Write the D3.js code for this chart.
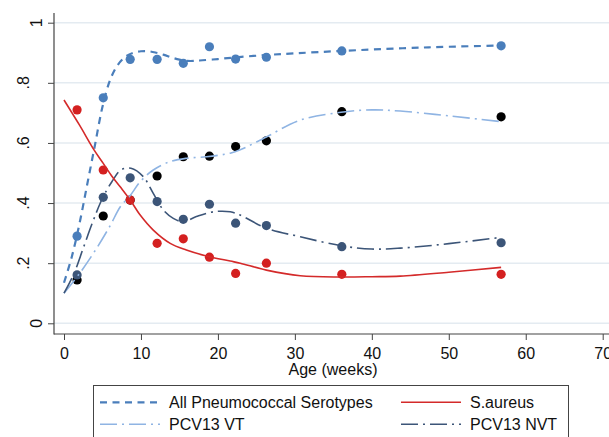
<!DOCTYPE html>
<html><head><meta charset="utf-8">
<script src="https://cdn.jsdelivr.net/npm/d3@7/dist/d3.min.js"></script>
<style>
html,body{margin:0;padding:0;background:#fff;}
svg{display:block;font-family:"Liberation Sans",Arial,sans-serif;}
</style></head>
<body>
<svg id="chart" width="609" height="437"></svg>
<script>
// ---- observed data (age in weeks) ----
const ageWeeks = [1.7, 5.1, 8.6, 12.1, 15.5, 18.9, 22.3, 26.3, 36.1, 56.8];
const allPneumo = [0.29, 0.75, 0.878, 0.878, 0.865, 0.92, 0.879, 0.885, 0.906, 0.923];
const pcv13VT   = [0.144, 0.357, 0.41, 0.49, 0.554, 0.556, 0.588, 0.607, 0.704, 0.687];
const pcv13NVT  = [0.161, 0.419, 0.484, 0.405, 0.346, 0.396, 0.333, 0.325, 0.255, 0.268];
const sAureus   = [0.71, 0.51, 0.41, 0.266, 0.281, 0.22, 0.166, 0.2, 0.163, 0.163];

// ---- fitted curves ----
const allFitX = [0, 1, 2, 3, 4, 5, 6, 7, 8, 9, 10, 11, 12, 13, 14, 15, 16, 17, 18, 20, 22, 26, 30, 36, 44, 50, 56.8];
const allFitY = [0.135, 0.22, 0.33, 0.46, 0.59, 0.72, 0.81, 0.86, 0.887, 0.9, 0.905, 0.905, 0.9, 0.893, 0.884, 0.877, 0.873, 0.873, 0.875, 0.879, 0.884, 0.892, 0.898, 0.906, 0.915, 0.92, 0.924];
const vtFitX  = [0, 2, 4, 6, 7.3, 8.6, 9.9, 11.6, 13.8, 15.9, 18.5, 21.6, 22.9, 26.3, 30.7, 36, 40, 43.7, 50, 56.8];
const vtFitY  = [0.1, 0.165, 0.24, 0.325, 0.387, 0.425, 0.471, 0.51, 0.538, 0.549, 0.554, 0.566, 0.577, 0.62, 0.676, 0.702, 0.71, 0.706, 0.69, 0.671];
const nvtFitX = [0, 1.3, 2.5, 3.7, 5, 6.2, 7.4, 8.7, 10.3, 11.6, 12.9, 14.2, 15.5, 17.2, 19.4, 21.6, 22.9, 26.3, 30.7, 36, 40, 43.7, 50, 56.8];
const nvtFitY = [0.1, 0.166, 0.25, 0.335, 0.416, 0.47, 0.51, 0.516, 0.488, 0.432, 0.377, 0.349, 0.338, 0.355, 0.371, 0.371, 0.36, 0.316, 0.288, 0.258, 0.247, 0.25, 0.265, 0.286];
const saFitX  = [0, 2, 3.9, 5.1, 6.2, 7.3, 8.6, 9.9, 11.6, 13.8, 15.9, 18.5, 21.6, 22.9, 26.3, 30.7, 36, 40, 43.7, 50, 56.8];
const saFitY  = [0.743, 0.66, 0.577, 0.532, 0.49, 0.454, 0.41, 0.36, 0.31, 0.266, 0.244, 0.224, 0.207, 0.2, 0.177, 0.158, 0.154, 0.155, 0.157, 0.17, 0.186];

const xTicks = [0, 10, 20, 30, 40, 50, 60, 70];
const yTicks = [0, 0.2, 0.4, 0.6, 0.8, 1];
const yTickLabels = ["0", ".2", ".4", ".6", ".8", "1"];
const legendLabels = ["All Pneumococcal Serotypes", "S.aureus", "PCV13 VT", "PCV13 NVT"];

// ---- drawing ----
const svg = d3.select("#chart");
const x = d3.scaleLinear().domain([0, 70]).range([64, 602.7]);
const y = d3.scaleLinear().domain([0, 1]).range([323.3, 22.7]);
const axisX = 54, axisY = 334;

// gridlines
svg.append("g").selectAll("line").data(yTicks).join("line")
  .attr("x1", axisX).attr("x2", 609)
  .attr("y1", d => y(d)).attr("y2", d => y(d))
  .attr("stroke", "#e4ebf1").attr("stroke-width", 1.5);

// y axis
const gy = svg.append("g").attr("transform", `translate(${axisX},0)`)
  .call(d3.axisLeft(y).tickValues(yTicks).tickSize(6).tickSizeOuter(0).tickFormat(""));
gy.select(".domain").remove();
gy.selectAll(".tick line").attr("stroke", "#444");
svg.append("line").attr("x1", axisX).attr("x2", axisX).attr("y1", 13).attr("y2", axisY + 0.5)
  .attr("stroke", "#444").attr("stroke-width", 1.2);
svg.append("g").selectAll("text").data(yTicks).join("text")
  .attr("transform", (d, i) => `translate(${(i === 0 || i === 5) ? 41.5 : 28.5},${y(d)}) rotate(-90)`)
  .attr("text-anchor", "middle").attr("font-size", 16).attr("fill", "#111")
  .text((d, i) => yTickLabels[i]);

// x axis
const gx = svg.append("g").attr("transform", `translate(0,${axisY})`)
  .call(d3.axisBottom(x).tickValues(xTicks).tickSize(6).tickSizeOuter(0).tickFormat(d3.format("d")));
gx.select(".domain").remove();
gx.selectAll(".tick line").attr("stroke", "#444");
gx.selectAll(".tick text").attr("font-size", 16).attr("fill", "#111")
  .attr("font-family", "Liberation Sans, Arial, sans-serif").attr("dy", null).attr("y", 25);
svg.append("line").attr("x1", axisX).attr("x2", 609).attr("y1", axisY).attr("y2", axisY)
  .attr("stroke", "#444").attr("stroke-width", 1.2);
svg.append("text").attr("x", 333).attr("y", 374.5).attr("text-anchor", "middle")
  .attr("font-size", 16).attr("fill", "#111").text("Age (weeks)");

// curves
const lineGen = d3.line().x(d => x(d[0])).y(d => y(d[1])).curve(d3.curveCatmullRom.alpha(0.5));
const series = [
  {fx: allFitX, fy: allFitY, px: ageWeeks, py: allPneumo, stroke: "#4a7ebb", width: 2.2, dash: "7,5.5", dot: "#4a7ebb"},
  {fx: vtFitX, fy: vtFitY, px: ageWeeks, py: pcv13VT, stroke: "#8fb4e3", width: 1.6, dash: "17,5,2,5", dot: "#000000"},
  {fx: nvtFitX, fy: nvtFitY, px: ageWeeks, py: pcv13NVT, stroke: "#3c5578", width: 1.6, dash: "17,5,2,5", dot: "#3c5578"},
  {fx: saFitX, fy: saFitY, px: ageWeeks, py: sAureus, stroke: "#d42a2a", width: 1.6, dash: null, dot: "#d42020"}
];
// points first
const drawOrder = [0, 1, 2, 3];
drawOrder.forEach(i => {
  const s = series[i];
  svg.append("g").selectAll("circle").data(s.px.map((v, k) => [v, s.py[k]])).join("circle")
    .attr("cx", d => x(d[0])).attr("cy", d => y(d[1])).attr("r", 4.6).attr("fill", s.dot);
});
drawOrder.forEach(i => {
  const s = series[i];
  svg.append("path").datum(s.fx.map((v, k) => [v, s.fy[k]]))
    .attr("d", lineGen).attr("fill", "none").attr("stroke", s.stroke)
    .attr("stroke-width", s.width).attr("stroke-dasharray", s.dash);
});

// legend
svg.append("rect").attr("x", 93.5).attr("y", 385.5).attr("width", 475).attr("height", 60)
  .attr("fill", "#fff").attr("stroke", "#444").attr("stroke-width", 1);
const legendItems = [
  {s: series[0], label: legendLabels[0], lx: 100, ly: 402.3},
  {s: series[3], label: legendLabels[1], lx: 401, ly: 402.3},
  {s: series[1], label: legendLabels[2], lx: 100, ly: 424.3},
  {s: series[2], label: legendLabels[3], lx: 401, ly: 424.3}
];
legendItems.forEach(it => {
  svg.append("line").attr("x1", it.lx).attr("x2", it.lx + 60).attr("y1", it.ly).attr("y2", it.ly)
    .attr("stroke", it.s.stroke).attr("stroke-width", it.s.width).attr("stroke-dasharray", it.s.dash);
  svg.append("text").attr("x", it.lx + 69).attr("y", it.ly + 5.5).attr("font-size", 16)
    .attr("fill", "#111").text(it.label);
});
</script>
</body></html>
